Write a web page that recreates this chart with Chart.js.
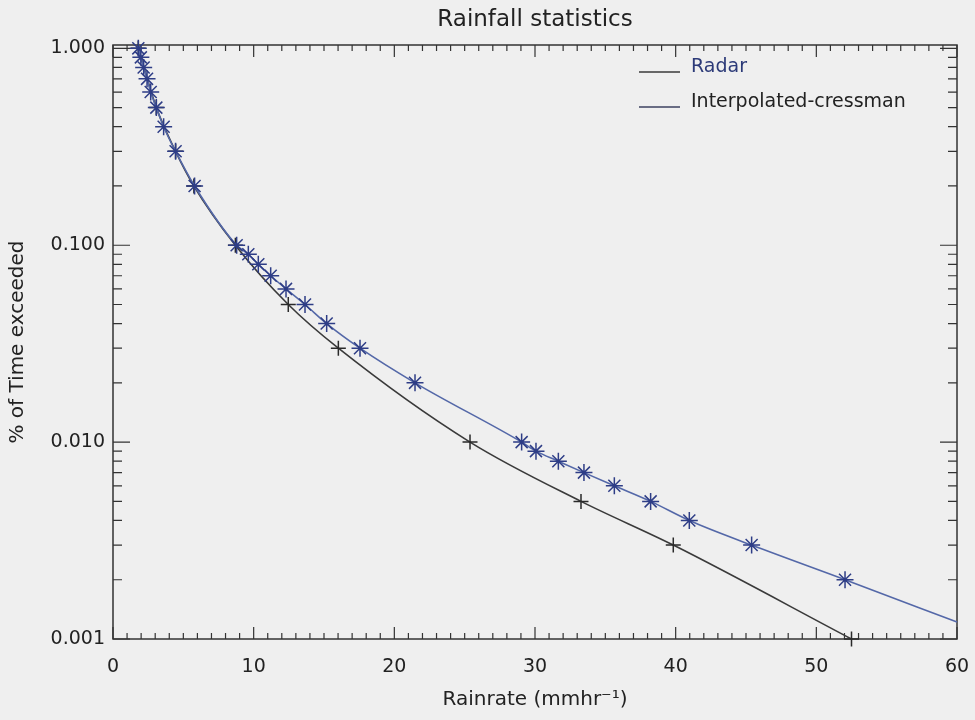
<!DOCTYPE html>
<html><head><meta charset="utf-8">
<script src="https://cdn.jsdelivr.net/npm/chart.js@4/dist/chart.umd.min.js"></script>
<style>html,body{margin:0;padding:0;background:#efefef;}canvas{display:block}</style>
</head><body>
<canvas id="c" width="975" height="720"></canvas>
<script>
// ---- data ----
const seriesNames = ['Radar', 'Interpolated-cressman'];
const radarRate = [1.80, 3.08, 4.45, 5.75, 8.70, 12.46, 16.02, 25.38, 33.27, 39.83, 52.5];
const radarPct  = [1.0, 0.5, 0.3, 0.2, 0.1, 0.05, 0.03, 0.01, 0.005, 0.003, 0.001];
const cressRate = [1.80, 1.98, 2.18, 2.42, 2.68, 3.08, 3.60, 4.45, 5.80, 8.79, 9.62, 10.33, 11.21, 12.30, 13.65, 15.19, 17.56, 21.47, 29.05, 30.07, 31.66, 33.48, 35.64, 38.22, 40.97, 45.40, 52.04, 60.0];
const cressPct  = [1.0, 0.9, 0.8, 0.7, 0.6, 0.5, 0.4, 0.3, 0.2, 0.1, 0.09, 0.08, 0.07, 0.06, 0.05, 0.04, 0.03, 0.02, 0.01, 0.009, 0.008, 0.007, 0.006, 0.005, 0.004, 0.003, 0.002, 0.00122];
const yTickValues = [1, 0.1, 0.01, 0.001];
const xMin = 0, xMax = 60, xTickStep = 10;
const yMin = 0.001, yMax = 1.04;

const FONT = 'DejaVu Sans';
const TEXT = '#222222';

const toXY = (xs, ys) => xs.map((v, i) => ({x: v, y: ys[i]}));

const bgPlugin = {
  id: 'bg',
  beforeDraw(chart) {
    const c = chart.ctx; c.save(); c.fillStyle = '#efefef';
    c.fillRect(0, 0, chart.width, chart.height); c.restore();
  }
};

const framePlugin = {
  id: 'frame',
  beforeDatasetsDraw(chart) {
    const {ctx, chartArea: {left, right, top, bottom}, scales: {x, y}} = chart;
    ctx.save();
    ctx.strokeStyle = '#333333';
    ctx.lineWidth = 1.5;
    ctx.strokeRect(left, top, right - left, bottom - top);
    ctx.lineWidth = 1.2;
    ctx.beginPath();
    for (let v = x.min; v <= x.max + 1e-9; v += 1) {
      const px = x.getPixelForValue(v);
      const len = (Math.round(v) % xTickStep === 0) ? 12 : 6;
      ctx.moveTo(px, bottom); ctx.lineTo(px, bottom - len);
      ctx.moveTo(px, top); ctx.lineTo(px, top + len);
    }
    for (let e = -3; e <= 0; e++) {
      for (let m = 1; m <= 9; m++) {
        const v = m * Math.pow(10, e);
        if (v < y.min * 0.999 || v > y.max) continue;
        const py = y.getPixelForValue(v);
        const len = m === 1 ? 17 : 9;
        ctx.moveTo(left, py); ctx.lineTo(left + len, py);
        ctx.moveTo(right, py); ctx.lineTo(right - len, py);
      }
    }
    ctx.stroke();
    ctx.restore();
  }
};

const legendPlugin = {
  id: 'idlLegend',
  afterDraw(chart) {
    const {ctx, chartArea: {right, top}} = chart;
    ctx.save();
    ctx.font = '19px "' + FONT + '"';
    ctx.textBaseline = 'alphabetic';
    ctx.textAlign = 'left';
    chart.data.datasets.forEach((ds, i) => {
      const base = top + 27 + i * 35;
      ctx.strokeStyle = ds.legendLineColor;
      ctx.lineWidth = 1.5;
      ctx.beginPath();
      ctx.moveTo(right - 318, base); ctx.lineTo(right - 277, base);
      ctx.stroke();
      ctx.fillStyle = ds.legendTextColor;
      ctx.fillText(ds.label, right - 266, base);
    });
    ctx.restore();
  }
};

new Chart(document.getElementById('c'), {
  type: 'line',
  data: {
    datasets: [
      {
        label: seriesNames[0],
        data: toXY(radarRate, radarPct),
        borderColor: '#3a3a3a',
        borderWidth: 1.6,
        pointStyle: 'cross',
        pointRadius: 7.5,
        pointBorderColor: '#2a2a2a',
        pointBorderWidth: 1.5,
        pointBackgroundColor: 'transparent',
        cubicInterpolationMode: 'monotone',
        fill: false,
        clip: false,
        order: 1,
        legendLineColor: '#3a3a3a',
        legendTextColor: '#2c3a78'
      },
      {
        label: seriesNames[1],
        data: toXY(cressRate, cressPct),
        borderColor: '#5468a8',
        borderWidth: 1.6,
        pointStyle: 'star',
        pointRadius: ctx => (ctx.dataIndex === cressPct.length - 1 ? 0 : 8.5),
        pointBorderColor: '#2e3d86',
        pointBorderWidth: 1.5,
        pointBackgroundColor: 'transparent',
        cubicInterpolationMode: 'monotone',
        fill: false,
        clip: false,
        order: 0,
        legendLineColor: '#3d4260',
        legendTextColor: '#222222'
      }
    ]
  },
  options: {
    responsive: false,
    animation: false,
    devicePixelRatio: 1,
    layout: {padding: {left: 0, right: 18, top: 0, bottom: 0}},
    plugins: {
      legend: {display: false},
      tooltip: {enabled: false},
      title: {
        display: true,
        text: 'Rainfall statistics',
        fullSize: false,
        color: TEXT,
        font: {family: FONT, size: 23, weight: 'normal'},
        padding: {top: 6, bottom: 11.4}
      }
    },
    scales: {
      x: {
        type: 'linear',
        min: xMin, max: xMax,
        grid: {display: false, drawTicks: true, tickLength: 16.6},
        border: {display: false},
        ticks: {stepSize: xTickStep, color: TEXT, font: {family: FONT, size: 19}, padding: 0, maxRotation: 0},
        title: {display: true, text: 'Rainrate (mmhr⁻¹)', color: TEXT, font: {family: FONT, size: 20}, padding: {top: 0, bottom: 8.0}},
        afterFit(s) { s.height = 81; }
      },
      y: {
        type: 'logarithmic',
        min: yMin, max: yMax,
        grid: {display: false, drawTicks: false},
        border: {display: false},
        afterBuildTicks(s) { s.ticks = yTickValues.map(v => ({value: v})); },
        ticks: {color: TEXT, font: {family: FONT, size: 19}, padding: 8, callback: v => Number(v).toFixed(3)},
        title: {display: true, text: '% of Time exceeded', color: TEXT, font: {family: FONT, size: 20}, padding: {top: 6.0, bottom: 0}},
        afterFit(s) { s.width = 113; }
      }
    }
  },
  plugins: [bgPlugin, framePlugin, legendPlugin]
});
</script>
</body></html>
